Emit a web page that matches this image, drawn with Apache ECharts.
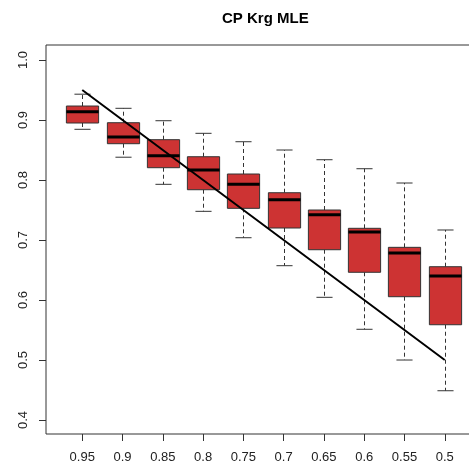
<!DOCTYPE html>
<html>
<head>
<meta charset="utf-8">
<script src="https://cdn.jsdelivr.net/npm/echarts@6/dist/echarts.min.js"></script>
<style>
html,body{margin:0;padding:0;background:#fff;}
#chart{width:469px;height:467px;}
</style>
</head>
<body>
<div id="chart"></div>
<script>
// Data
var categories = ['0.95','0.9','0.85','0.8','0.75','0.7','0.65','0.6','0.55','0.5'];
var whiskerLow  = [0.8845,0.838,0.7928,0.7478,0.7038,0.6572,0.6045,0.5512,0.500,0.4488];
var q1          = [0.895,0.8605,0.8205,0.7838,0.7528,0.720,0.6838,0.6462,0.6055,0.5588];
var median      = [0.9138,0.8717,0.8405,0.8167,0.7928,0.7672,0.7422,0.7133,0.6783,0.640];
var q3          = [0.9233,0.8955,0.8672,0.8388,0.810,0.7788,0.750,0.7195,0.6878,0.6555];
var whiskerHigh = [0.943,0.9195,0.8988,0.8778,0.8638,0.850,0.8338,0.8188,0.795,0.7167];
var trueValues  = [0.95,0.9,0.85,0.8,0.75,0.7,0.65,0.6,0.55,0.5];
var yTicks      = [0.4,0.5,0.6,0.7,0.8,0.9,1.0];
var yTickLabels = ['0.4','0.5','0.6','0.7','0.8','0.9','1.0'];

var positions = categories.map(function(c,i){return i+1;});
var boxData = positions.map(function(p,i){
  return [p, whiskerLow[i], q1[i], median[i], q3[i], whiskerHigh[i]];
});
var lineData = positions.map(function(p,i){ return [p, trueValues[i]]; });

var chart = echarts.init(document.getElementById('chart'), null, {renderer:'canvas'});
var font = "'Liberation Sans', Arial, sans-serif";

function renderBox(params, api){
  var x = api.value(0);
  var pLo = api.coord([x, api.value(1)]);
  var pQ1 = api.coord([x, api.value(2)]);
  var pMed = api.coord([x, api.value(3)]);
  var pQ3 = api.coord([x, api.value(4)]);
  var pHi = api.coord([x, api.value(5)]);
  var w = api.size([0.8, 0])[0];
  var half = w/2, cap = w/4;
  var cx = Math.round(pMed[0]) + 0.5;
  var dash = {stroke:'#333', lineWidth:1, lineDash:[4,3], fill:null};
  var solid = {stroke:'#333', lineWidth:1, fill:null};
  return {
    type:'group',
    children:[
      {type:'line', shape:{x1:cx,y1:pQ3[1],x2:cx,y2:pHi[1]}, style:dash},
      {type:'line', shape:{x1:cx,y1:pQ1[1],x2:cx,y2:pLo[1]}, style:dash},
      {type:'line', shape:{x1:cx-cap,y1:pHi[1],x2:cx+cap,y2:pHi[1]}, style:solid},
      {type:'line', shape:{x1:cx-cap,y1:pLo[1],x2:cx+cap,y2:pLo[1]}, style:solid},
      {type:'rect', shape:{x:cx-half, y:pQ3[1], width:w, height:pQ1[1]-pQ3[1]},
        style:{fill:'#CD3333', stroke:'#333', lineWidth:1}},
      {type:'line', shape:{x1:cx-half,y1:pMed[1],x2:cx+half,y2:pMed[1]},
        style:{stroke:'#000', lineWidth:3}}
    ]
  };
}

var option = {
  animation:false,
  backgroundColor:'#fff',
  title:{
    text:'CP Krg MLE',
    left:217, top:6,
    textStyle:{fontFamily:font, fontSize:15, fontWeight:'bold', color:'#000'}
  },
  grid:{
    left:46, top:45, right:-12, bottom:33,
    show:true, borderColor:'#333', borderWidth:1,
    backgroundColor:'transparent',
    containLabel:false, outerBoundsMode:'none'
  },
  xAxis:{
    type:'value', min:0.1, max:10.9,
    splitLine:{show:false},
    axisLine:{show:false},
    axisTick:{show:true, length:7, inside:false, customValues:positions, lineStyle:{color:'#333'}},
    axisLabel:{
      customValues:positions, margin:17,
      fontFamily:font, fontSize:13, color:'#222',
      formatter:function(v){ return categories[Math.round(v)-1] || ''; }
    }
  },
  yAxis:{
    type:'value', min:0.3767, max:1.025,
    splitLine:{show:false},
    axisLine:{show:false},
    axisTick:{show:true, length:7, customValues:yTicks, lineStyle:{color:'#333'}},
    axisLabel:{
      customValues:yTicks, rotate:90, margin:16,
      fontFamily:font, fontSize:13, color:'#222',
      formatter:function(v){
        var idx = yTicks.findIndex(function(t){return Math.abs(t-v)<1e-6;});
        return idx>=0 ? yTickLabels[idx] : '';
      }
    }
  },
  series:[
    {
      type:'custom',
      renderItem:renderBox,
      data:boxData,
      encode:{x:0, y:[1,2,3,4,5]},
      clip:false,
      z:2
    },
    {
      type:'line',
      data:lineData,
      showSymbol:false,
      symbol:'none',
      lineStyle:{color:'#000', width:2},
      z:3
    }
  ]
};
chart.setOption(option);
</script>
</body>
</html>
